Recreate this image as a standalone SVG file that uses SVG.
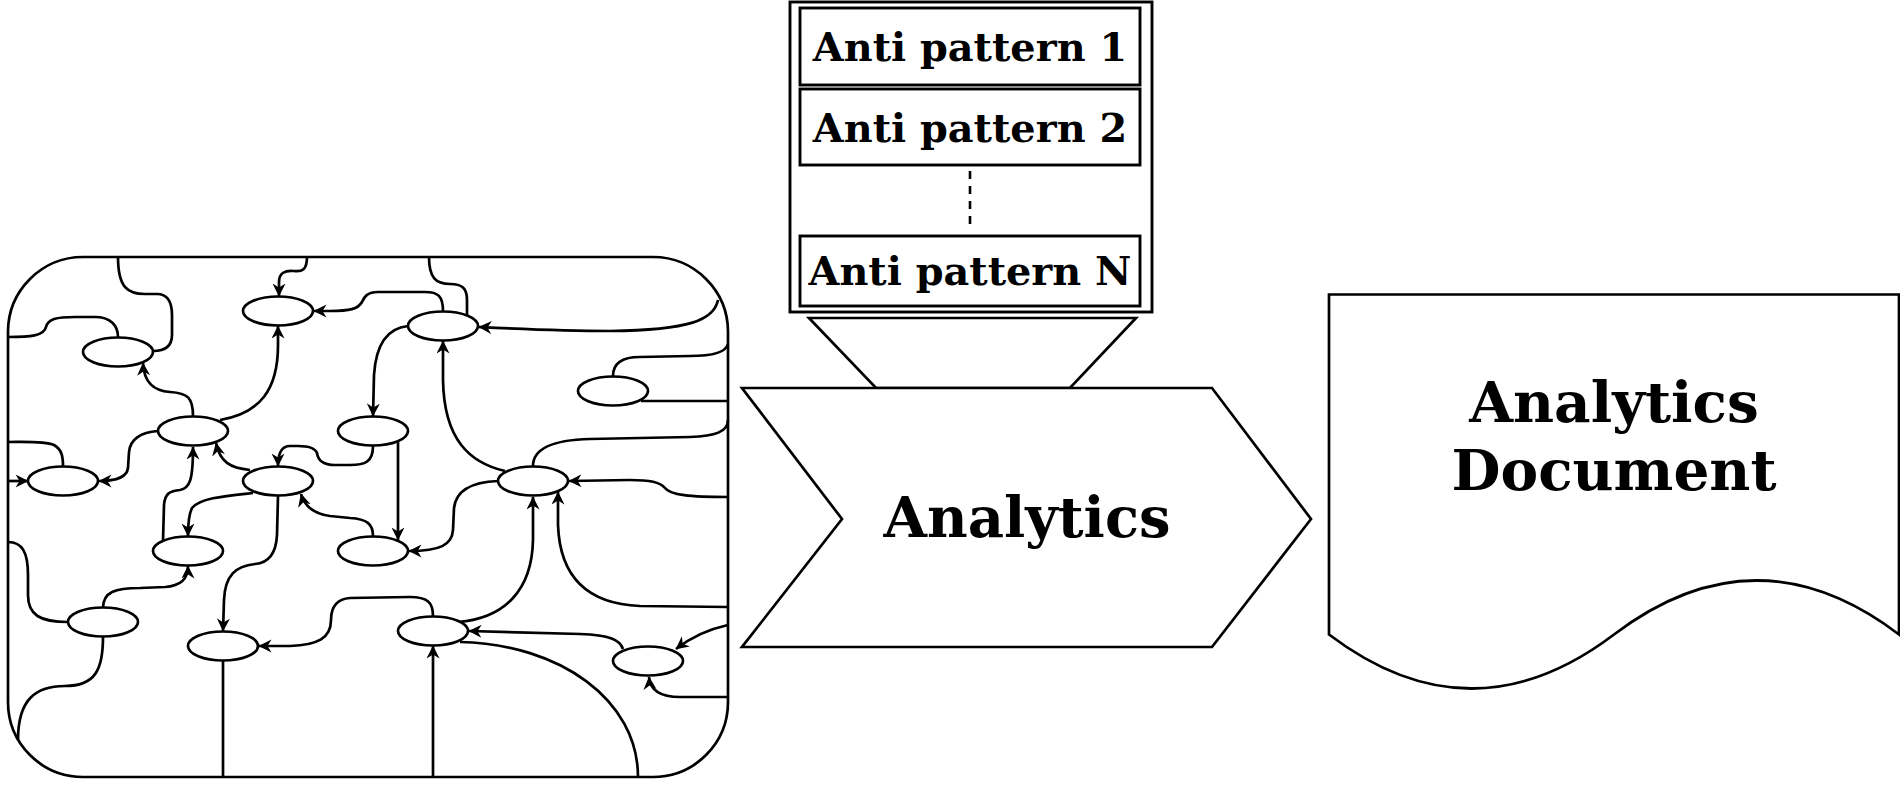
<svg xmlns="http://www.w3.org/2000/svg" width="1900" height="786" viewBox="0 0 1900 786">
<defs>
<style>
.s{fill:none;stroke:#000;stroke-width:2.7}
.w{fill:#fff;stroke:#000;stroke-width:2.7}
.b{fill:#fff;stroke:#000;stroke-width:2.9}
.a{marker-end:url(#arr)}
.t{font-family:"DejaVu Serif","Liberation Serif",serif;font-weight:bold;fill:#000;text-anchor:middle}
</style>
<marker id="arr" markerWidth="14" markerHeight="14" refX="12.5" refY="6.5" orient="auto" markerUnits="userSpaceOnUse">
<path d="M0,0 L13,6.5 L0,13 L4,6.5 Z" fill="#000"/>
</marker>
</defs>
<rect width="1900" height="786" fill="#fff"/>

<g id="system">
<rect class="w" x="8" y="257" width="720" height="520" rx="75" ry="75"/>
</g>

<g id="connectors">
<path class="s a" d="M307,257 C307,270 302,272 294,271 C285,270 279,273 279,282 L279,296"/>
<path class="s a" d="M443,311 C443,296 438,292 425,292 L378,292 C366,292 364,298 362,302 C358,309 350,311 330,311 L314,311"/>
<path class="s" d="M118,257 C118,288 128,294 145,294 L157,294 C168,294 172,302 172,315 L172,335 C172,346 165,351 153,351"/>
<path class="s" d="M8,337 C30,337 44,336 46,327 C48,319 56,317 75,317 L95,317 C110,317 118,325 118,337"/>
<path class="s a" d="M193,416 C193,398 188,393 170,392 C155,391 144,384 143,363"/>
<path class="s a" d="M220,420 C260,413 278,390 278,345 L278,326"/>
<path class="s a" d="M158,431 C140,432 130,440 129,452 L128,468 C127,476 118,481 99,481"/>
<path class="s" d="M8,442 C25,442 45,441 54,445 C61,449 63,455 63,466"/>
<path class="s a" d="M8,481 L28,481"/>
<path class="s a" d="M163,541 L164,505 C165,493 170,491 180,490 C190,488 193,480 193,447"/>
<path class="s a" d="M250,470 C230,468 220,462 216,443"/>
<path class="s a" d="M373,446 C373,462 365,465 350,465 L335,465 C322,465 318,460 317,453 C315,448 308,446 298,446 L290,446 C282,446 278,452 278,466"/>
<path class="s a" d="M278,496 L277,535 C276,555 268,563 255,564 C236,566 225,575 224,600 L223,631"/>
<path class="s a" d="M253,493 C225,496 200,498 192,508 C189,514 188,522 188,536"/>
<path class="s a" d="M373,536 C373,524 367,519 350,518 L330,516 C315,514 305,508 301,494"/>
<path class="s a" d="M398,442 L398,540"/>
<path class="s a" d="M498,481 C472,482 456,490 454,508 L453,530 C452,545 440,551 409,551"/>
<path class="s a" d="M505,471 C470,463 444,440 443,380 L443,341"/>
<path class="s a" d="M408,326 C388,328 376,343 374,375 L373,416"/>
<path class="s" d="M467,315 L467,300 C467,288 462,284 450,284 C436,284 429,278 429,257"/>
<path class="s a" d="M718,300 C714,320 690,330 610,331 C560,331 520,329 479,327"/>
<path class="s" d="M728,344 C726,352 715,356 690,356 L640,357 C622,357 613,363 613,376"/>
<path class="s" d="M641,401 L728,401"/>
<path class="s" d="M728,420 C728,432 715,436 690,437 L590,439 C550,440 533,450 533,466"/>
<path class="s a" d="M728,497 C690,497 670,495 665,488 C660,482 650,480 630,480 L569,481"/>
<path class="s a" d="M458,622 C505,618 532,590 533,540 L533,497"/>
<path class="s a" d="M728,607 L640,606 C590,604 560,580 558,525 L558,492"/>
<path class="s a" d="M433,616 C433,602 427,597 410,597 L350,598 C337,599 331,606 331,620 C331,638 318,645 290,646 L259,646"/>
<path class="s a" d="M433,777 L433,646"/>
<path class="s" d="M223,661 L223,777"/>
<path class="s" d="M460,642 C560,644 638,700 638,777"/>
<path class="s a" d="M623,649 C620,640 610,635 580,634 L469,631"/>
<path class="s a" d="M728,625 C705,630 690,638 676,649"/>
<path class="s a" d="M728,697 L680,697 C660,697 650,690 649,677"/>
<path class="s" d="M8,542 C22,542 28,552 28,575 L28,595 C28,615 40,622 68,622"/>
<path class="s a" d="M103,608 C103,592 115,588 140,588 L165,587 C180,586 188,580 188,566"/>
<path class="s" d="M103,637 C103,670 95,686 65,686 C35,686 18,700 18,740"/>
</g>

<g id="n-a"><ellipse class="w" cx="278" cy="311" rx="35" ry="14.5"/></g>
<g id="n-b"><ellipse class="w" cx="118" cy="352" rx="35" ry="14.5"/></g>
<g id="n-c"><ellipse class="w" cx="193" cy="431" rx="35" ry="14.5"/></g>
<g id="n-d"><ellipse class="w" cx="63" cy="481" rx="35" ry="14.5"/></g>
<g id="n-e"><ellipse class="w" cx="278" cy="481" rx="35" ry="14.5"/></g>
<g id="n-f"><ellipse class="w" cx="373" cy="431" rx="35" ry="14.5"/></g>
<g id="n-g"><ellipse class="w" cx="443" cy="326" rx="35" ry="14.5"/></g>
<g id="n-h"><ellipse class="w" cx="613" cy="391" rx="35" ry="14.5"/></g>
<g id="n-i"><ellipse class="w" cx="533" cy="481" rx="35" ry="14.5"/></g>
<g id="n-j"><ellipse class="w" cx="188" cy="551" rx="35" ry="14.5"/></g>
<g id="n-k"><ellipse class="w" cx="103" cy="622" rx="35" ry="14.5"/></g>
<g id="n-l"><ellipse class="w" cx="223" cy="646" rx="35" ry="14.5"/></g>
<g id="n-m"><ellipse class="w" cx="373" cy="551" rx="35" ry="14.5"/></g>
<g id="n-n"><ellipse class="w" cx="433" cy="631" rx="35" ry="14.5"/></g>
<g id="n-o"><ellipse class="w" cx="648" cy="661" rx="35" ry="14.5"/></g>

<g id="funnel">
<polygon class="w" points="809,318 1136,318 1070,388 876,388"/>
</g>

<g id="analytics">
<polygon class="w" points="742,388 1212,388 1311,519 1212,647 742,647 842,519"/>
<text class="t" x="1027" y="537" font-size="56">Analytics</text>
</g>

<g id="anti-patterns">
<rect class="b" x="790" y="2" width="362" height="310"/>
<g id="ap1">
<rect class="b" x="800" y="8" width="340" height="77"/>
<text class="t" x="970" y="61" font-size="39.8">Anti pattern 1</text>
</g>
<g id="ap2">
<rect class="b" x="800" y="89" width="340" height="76"/>
<text class="t" x="970" y="142" font-size="39.8">Anti pattern 2</text>
</g>
<line x1="970" y1="171" x2="970" y2="231" stroke="#000" stroke-width="2.6" stroke-dasharray="8 7"/>
<g id="apN">
<rect class="b" x="800" y="236" width="340" height="70"/>
<text class="t" x="970" y="285" font-size="39.8">Anti pattern N</text>
</g>
</g>

<g id="document">
<path class="w" d="M1329,294.5 L1899,294.5 L1899,634.5 Q1756.5,526.5 1614,634.5 Q1471.5,742.5 1329,634.5 Z"/>
<text class="t" x="1614" y="422" font-size="56.5">Analytics</text>
<text class="t" x="1614" y="490" font-size="56.5">Document</text>
</g>
</svg>
